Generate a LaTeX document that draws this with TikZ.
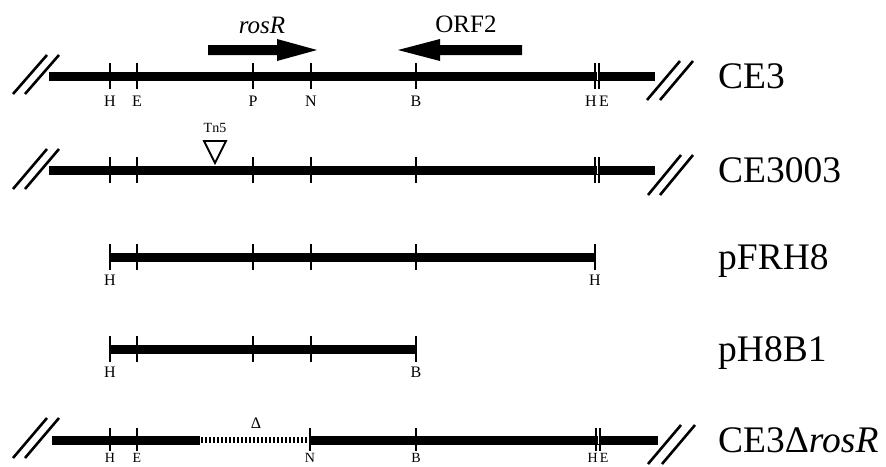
\documentclass[tikz,border=0pt]{standalone}
\usepackage{fontspec}
\setmainfont{Liberation Serif}
\begin{document}
\begin{tikzpicture}[x=1pt,y=-1pt,
  bar/.style={line width=9pt},
  sitetick/.style={line width=1.8pt},
  slash/.style={line width=2.6pt},
  site/.style={font=\fontsize{16}{18}\selectfont, inner sep=0pt},
  lowsite/.style={font=\fontsize{14}{15}\selectfont, inner sep=0pt},
  strain/.style={font=\fontsize{37.5}{40}\selectfont, anchor=base west, inner sep=0pt},
  gene/.style={fill=black},
  genelabel/.style={font=\fontsize{25}{28}\selectfont, inner sep=0pt}]
\useasboundingbox (0,0) rectangle (886,466);

% ---------- Row 1: CE3 ----------
\draw[bar] (49,76) -- (655,76);
\foreach \x in {110,137,253,311,416,595.2,598.8} \draw[sitetick] (\x,63) -- (\x,89);
\draw[white, line width=0.9pt] (597,72) -- (597,80);
\foreach \x in {13,25} \draw[slash] (\x,94) -- (\x+34,55);
\foreach \x in {647,660} \draw[slash] (\x,100) -- (\x+33,61);
\node[site] (h1) at (110,101) {H};
\node[site] (e1) at (137,101) {E};
\node[site] (p1) at (253,101) {P};
\node[site] (n1) at (311,101) {N};
\node[site] (b1) at (416,101) {B};
\node[site] (he1) at (597,101) {H\,E};
\fill[gene] (208,45) -- (277,45) -- (277,39) -- (317,50) -- (277,61) -- (277,55) -- (208,55) -- cycle;
\fill[gene] (522,45) -- (440,45) -- (440,39) -- (398,50) -- (440,61) -- (440,55) -- (522,55) -- cycle;
\node[genelabel] (rosR) at (262,25) {\textit{rosR}};
\node[genelabel] (orf2) at (466,24) {ORF2};
\node[strain] (ce3) at (718,88) {CE3};

% ---------- Row 2: CE3003 ----------
\draw[bar] (49,170) -- (655,170);
\foreach \x in {110,137,253,311,416,595.2,598.8} \draw[sitetick] (\x,157) -- (\x,183);
\draw[white, line width=0.9pt] (597,166) -- (597,174);
\foreach \x in {13,25} \draw[slash] (\x,189) -- (\x+34,149);
\foreach \x in {648,660} \draw[slash] (\x,195) -- (\x+33,155);
\draw[line width=1.8pt, fill=white] (204,141) -- (226,141) -- (215,163) -- cycle;
\node[site, font=\fontsize{14}{16}\selectfont] (tn5) at (215,128) {Tn5};
\node[strain] (ce3003) at (718,182) {CE3003};

% ---------- Row 3: pFRH8 ----------
\draw[bar] (110,257) -- (595,257);
\foreach \x in {110,137,253,311,416,595} \draw[sitetick] (\x,244) -- (\x,270);
\node[site] (h3a) at (110,280) {H};
\node[site] (h3b) at (595,280) {H};
\node[strain] (pfrh8) at (718,269) {pFRH8};

% ---------- Row 4: pH8B1 ----------
\draw[bar] (110,349) -- (416,349);
\foreach \x in {110,137,253,311,416} \draw[sitetick] (\x,336) -- (\x,362);
\node[site] (h4) at (110,372) {H};
\node[site] (b4) at (416,372) {B};
\node[strain] (ph8b1) at (718,361) {pH8B1};

% ---------- Row 5: CE3 delta rosR ----------
\draw[bar] (52,440) -- (200,440);
\draw[bar] (310,440) -- (658,440);
\draw[line width=6pt, dash pattern=on 2.4pt off 1.6pt] (201,440) -- (307,440);
\foreach \x in {110,137,310,416,596.2,599.8} \draw[sitetick] (\x,428) -- (\x,451);
\draw[white, line width=0.9pt] (598,436) -- (598,444);
\foreach \x in {13,25} \draw[slash] (\x,458) -- (\x+34,418);
\foreach \x in {648,662} \draw[slash] (\x,464) -- (\x+33,425);
\node[site] (delta) at (256,423) {Δ};
\node[lowsite] (h5) at (110,458) {H};
\node[lowsite] (e5) at (137,458) {E};
\node[lowsite] (n5) at (310,458) {N};
\node[lowsite] (b5) at (416,458) {B};
\node[lowsite] (he5) at (598,458) {H\,E};
\node[strain] (ce3d) at (718,452) {CE3Δ\textit{rosR}};
\end{tikzpicture}
\end{document}
